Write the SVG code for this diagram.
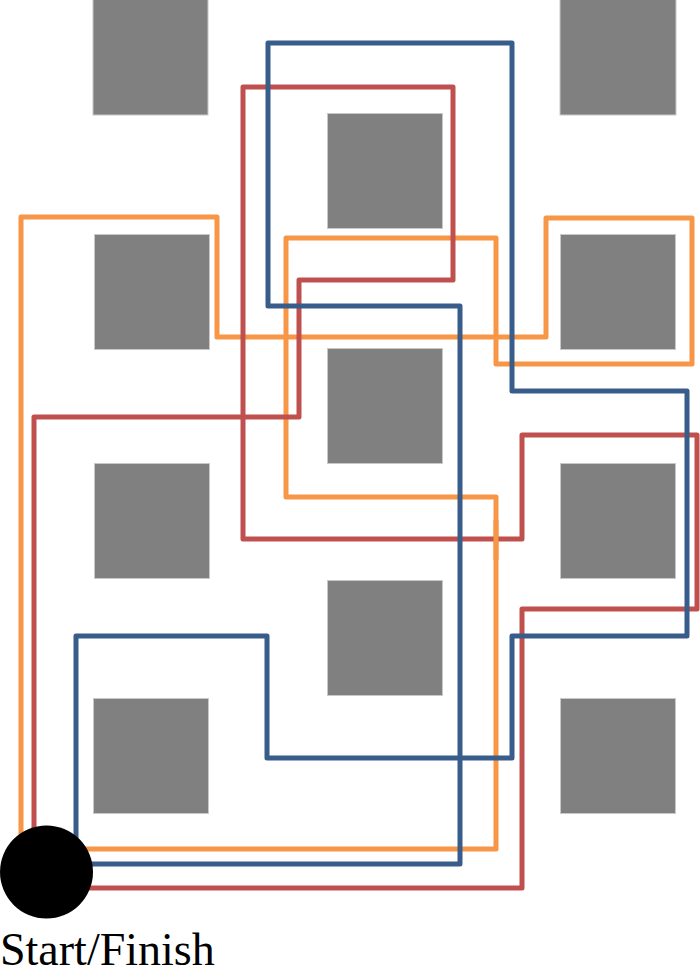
<svg xmlns="http://www.w3.org/2000/svg" width="700" height="968" viewBox="0 0 700 968">
<style>
.blk{fill:#808080;stroke:#c8c8c8;stroke-width:1}
.rt{fill:none;stroke-width:5;stroke-linejoin:round}
.o{stroke:#F79646}.r{stroke:#C0504D}.b{stroke:#385D8A}
.lbl{font-family:"Liberation Serif","Times New Roman",serif;font-size:46px;fill:#000}
</style>
<rect width="700" height="968" fill="#fff"/>
<g id="blocks">
<rect id="b1" class="blk" x="93" y="-1" width="115" height="116"/>
<rect id="b2" class="blk" x="560" y="-1" width="116" height="116"/>
<rect id="b3" class="blk" x="327.5" y="113.5" width="115" height="115"/>
<rect id="b4" class="blk" x="94.5" y="234.5" width="115" height="115"/>
<rect id="b5" class="blk" x="560.5" y="234.5" width="115" height="115"/>
<rect id="b6" class="blk" x="327.5" y="348.5" width="115" height="115"/>
<rect id="b7" class="blk" x="94.5" y="463.5" width="115" height="115"/>
<rect id="b8" class="blk" x="560.5" y="463.5" width="115" height="115"/>
<rect id="b9" class="blk" x="327.5" y="580.5" width="115" height="115"/>
<rect id="b10" class="blk" x="93.5" y="698.5" width="115" height="115"/>
<rect id="b11" class="blk" x="560.5" y="698.5" width="115" height="115"/>
</g>
<g id="routes">
<path id="orange" class="rt o" d="M21,217 H217 V337 H546 V218 H692 V364 H496 V238 H286 V497 H496 V849 H21 Z"/>
<path id="red" class="rt r" d="M243,87 H453 V280 H299 V417 H34 V888 H522 V609 H697 V435 H522 V539 H243 Z"/>
<path class="rt o" d="M496,520 V560"/>
<path id="blue" class="rt b" d="M268,43 H512 V391 H687 V636 H512 V758 H267 V636 H76 V864 H460 V306 H268 Z"/>
</g>
<g id="start">
<circle cx="46.5" cy="872" r="46.5" fill="#000"/>
<text class="lbl" x="0" y="965">Start/Finish</text>
</g>
</svg>
